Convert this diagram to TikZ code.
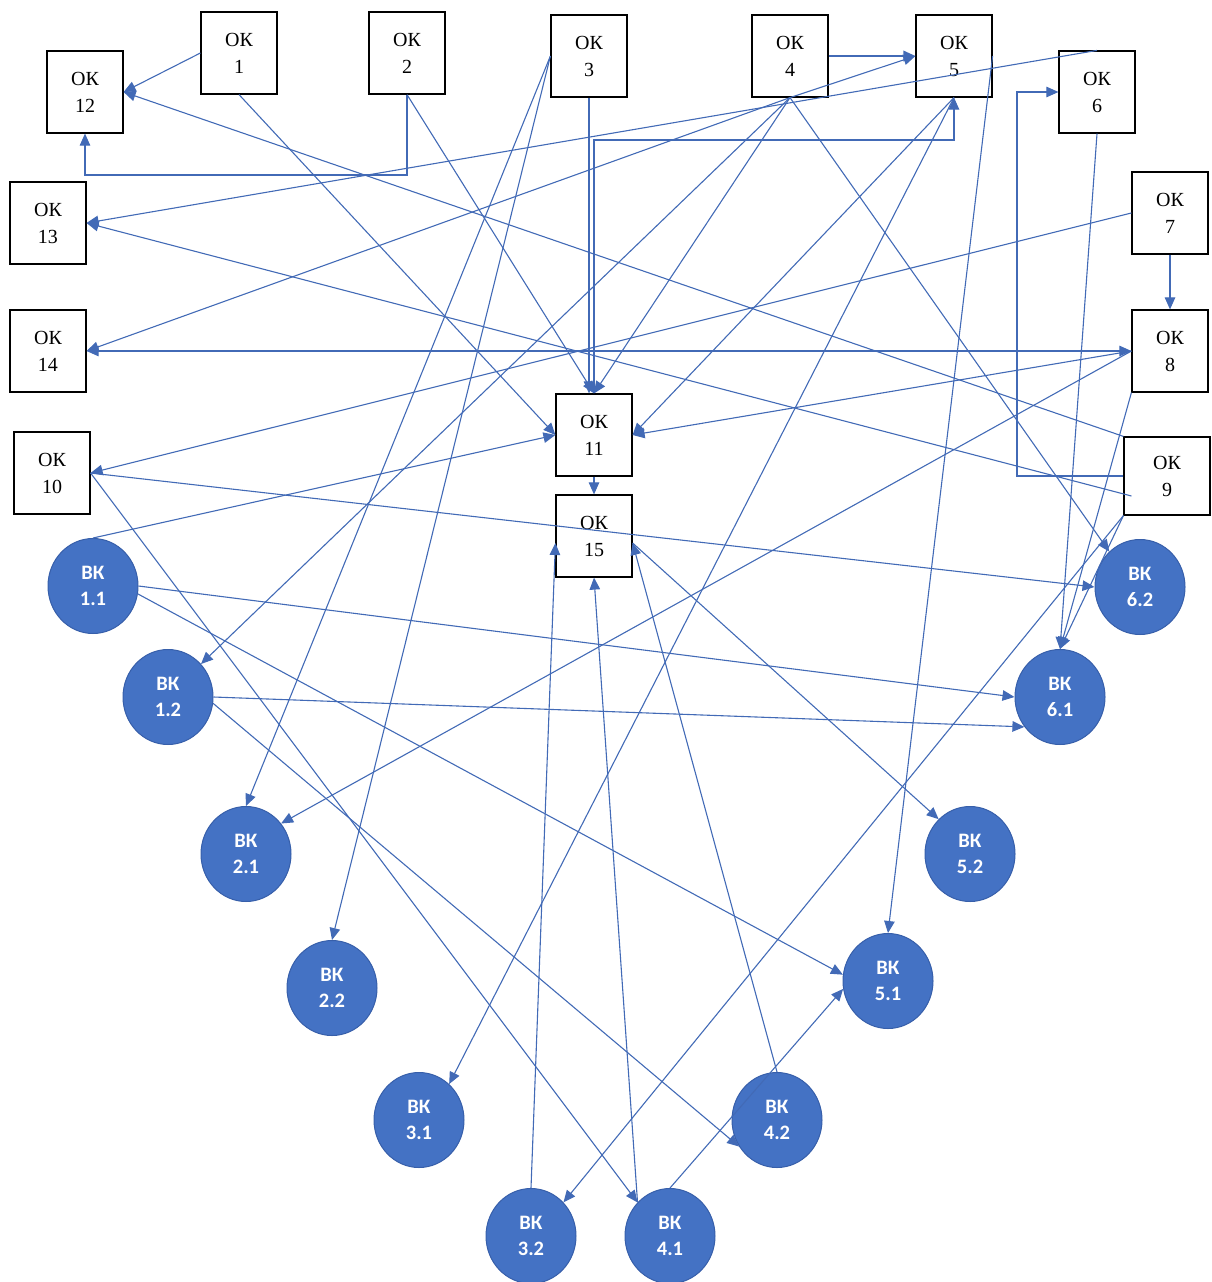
\documentclass[tikz,border=0pt]{standalone}
\usepackage{fontspec}
\setmainfont{Liberation Serif}
\newfontfamily\calfont{Carlito}
\usetikzlibrary{arrows.meta,shapes.geometric,calc}
\definecolor{ln}{RGB}{66,106,182}
\definecolor{bkfill}{RGB}{68,114,196}
\definecolor{bkdraw}{RGB}{55,95,170}
\tikzset{
  okbox/.style={draw=black, line width=1.2pt, rectangle, minimum width=76pt, minimum height=82pt,
    inner sep=0pt, align=center, font=\fontsize{20}{27}\selectfont},
  bknode/.style={ellipse, draw=bkdraw, fill=bkfill, line width=1pt, minimum width=90pt,
    minimum height=95pt, inner sep=0pt, align=center, text=white,
    font=\calfont\bfseries\fontsize{20.5}{26}\selectfont},
  arr/.style={draw=ln, line width=1.1pt, -{Triangle[length=12pt,width=10.5pt]}},
  biarr/.style={draw=ln, line width=1.1pt, {Triangle[length=12pt,width=10.5pt]}-{Triangle[length=12pt,width=10.5pt]}},
}
\begin{document}
\begin{tikzpicture}[x=1pt,y=-1pt]
\useasboundingbox (0,0) rectangle (1212,1282);
% OK boxes
\node[okbox] (ok1)  at (239,53)  {ОК\\1};
\node[okbox] (ok2)  at (407,53)  {ОК\\2};
\node[okbox] (ok3)  at (589,56)  {ОК\\3};
\node[okbox] (ok4)  at (790,56)  {ОК\\4};
\node[okbox] (ok5)  at (954,56)  {ОК\\5};
\node[okbox] (ok6)  at (1097,92) {ОК\\6};
\node[okbox] (ok7)  at (1170,213) {ОК\\7};
\node[okbox] (ok8)  at (1170,351) {ОК\\8};
\node[okbox, minimum width=86pt, minimum height=78pt] (ok9) at (1167,476) {ОК\\9};
\node[okbox] (ok10) at (52,473)  {ОК\\10};
\node[okbox] (ok11) at (594,435) {ОК\\11};
\node[okbox] (ok12) at (85,92)   {ОК\\12};
\node[okbox] (ok13) at (48,223)  {ОК\\13};
\node[okbox] (ok14) at (48,351)  {ОК\\14};
\node[okbox] (ok15) at (594,536) {ОК\\15};
% BK circles
\node[bknode] (bk11) at (93,586)   {ВК\\1.1};
\node[bknode] (bk12) at (168,697)  {ВК\\1.2};
\node[bknode] (bk21) at (246,854)  {ВК\\2.1};
\node[bknode] (bk22) at (332,988)  {ВК\\2.2};
\node[bknode] (bk31) at (419,1120) {ВК\\3.1};
\node[bknode] (bk32) at (531,1236) {ВК\\3.2};
\node[bknode] (bk41) at (670,1236) {ВК\\4.1};
\node[bknode] (bk42) at (777,1120) {ВК\\4.2};
\node[bknode] (bk51) at (888,981)  {ВК\\5.1};
\node[bknode] (bk52) at (970,854)  {ВК\\5.2};
\node[bknode] (bk61) at (1060,697) {ВК\\6.1};
\node[bknode] (bk62) at (1140,587) {ВК\\6.2};
% bend points
\coordinate (k2) at (250,175);
\coordinate (k5) at (800,140);
\coordinate (k9) at (1017,300);
% connectors
\draw[arr] (ok1.west) -- (ok12.east);
\draw[arr] (ok1.south) -- (ok11.west);
\draw[arr] (ok2.south) |- (k2) -| (ok12.south);
\draw[arr] (ok2.south) -- (ok11.north);
\draw[arr] (ok3.south) -- (ok3.south |- ok11.north);
\draw[arr] (ok11.north) |- (k5) -| (ok5.south);
\draw[arr, line width=1.8pt] (ok4.east) -- (ok5.west);
\draw[arr] (ok4.south) -- (ok5.west);
\draw[arr] (ok4.south) -- (ok14.east);
\draw[arr] (ok4.south) -- (bk12.45);
\draw[arr] (ok4.south) -- (ok11.north);
\draw[arr] (ok4.south) -- (bk62.131);
\draw[arr] (ok5.south) -- (ok11.east);
\draw[arr] (ok5.south) -- (bk31.50);
\draw[arr] (ok5.east) -- (bk51.north);
\draw[arr] (ok6.north) -- (ok13.east);
\draw[arr] (ok6.south) -- (bk61.north);
\draw[arr] (ok7.south) -- (ok8.north);
\draw[arr] (ok7.west) -- (ok10.east);
\draw[biarr] (ok8.west) -- (ok14.east);
\draw[arr] (ok8.west) -- (ok11.east);
\draw[arr] (ok8.west) -- (bk21.41);
\draw[arr] (ok8.south west) -- (bk61.north);
\draw[arr] (ok9.north west) -- (ok12.east);
\draw[arr] ($(ok9.west)+(8,20)$) -- (ok13.east);
\draw[arr] (ok9.west) -| (k9) |- (ok6.west);
\draw[arr] (ok9.south west) -- (bk61.north);
\draw[arr] (ok9.south west) -- (bk32.46);
\draw[arr] (ok10.east) -- (bk62.west);
\draw[arr] (ok10.east) -- (bk41.134);
\draw[arr] (ok11.south) -- (ok15.north);
\draw[arr] (ok3.west) -- (bk21.north);
\draw[arr] (ok3.west) -- (bk22.north);
\draw[arr] (bk11.north) -- (ok11.west);
\draw[arr] (bk11.east) -- (bk61.west);
\draw[arr] (bk11.-10) -- (bk51.172);
\draw[arr] (bk12.east) -- (bk61.220);
\draw[arr] (bk12.-8) -- (bk42.215);
\draw[arr] (bk32.north) -- ($(ok15.west)+(0,7)$);
\draw[arr] (bk41.134) -- (ok15.south);
\draw[arr] (bk41.north) -- (bk51.190);
\draw[arr] (bk42.north) -- ($(ok15.east)+(0,7)$);
\draw[arr] ($(ok15.east)+(0,7)$) -- (bk52.132);
\end{tikzpicture}
\end{document}
